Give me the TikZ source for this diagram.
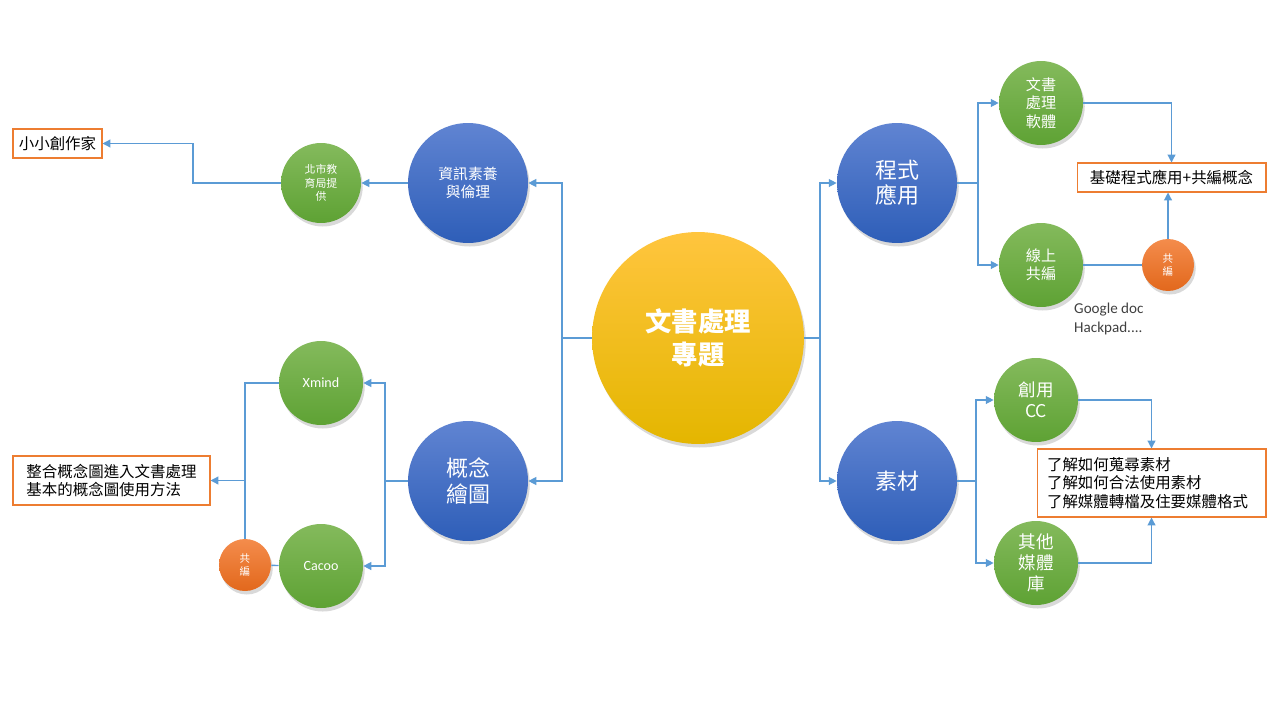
\documentclass[tikz,border=0pt]{standalone}
\usepackage{fontspec}
\setmainfont{Carlito}
\newfontfamily\cjk{Noto Sans CJK TC}
\usetikzlibrary{shadows,arrows.meta}

\definecolor{linkblue}{HTML}{5B9BD5}
\definecolor{boxorange}{HTML}{ED7D31}
\definecolor{gdtext}{HTML}{404040}

\begin{document}
\begin{tikzpicture}[x=0.02cm,y=-0.02cm,
    link/.style={draw=linkblue,line width=0.75pt},
    tip/.style={link,-{Triangle[length=4.5pt,width=4.5pt]}},
    ball/.style={circle,inner sep=0pt,align=center,text=white,
      drop shadow={opacity=0.3,shadow xshift=1pt,shadow yshift=-2pt}},
    hub/.style={ball,minimum size=4.24cm,
      top color={rgb,255:red,255;green,197;blue,62},
      middle color={rgb,255:red,255;green,192;blue,0},
      bottom color={rgb,255:red,228;green,182;blue,0},
      font=\cjk\bfseries\fontsize{15}{19}\selectfont},
    topic/.style={ball,minimum size=2.4cm,
      top color={rgb,255:red,96;green,132;blue,210},
      bottom color={rgb,255:red,46;green,94;blue,184}},
    leaf/.style={ball,minimum size=1.68cm,
      top color={rgb,255:red,132;green,186;blue,92},
      bottom color={rgb,255:red,94;green,162;blue,52}},
    cobox/.style={ball,minimum size=1.04cm,
      top color={rgb,255:red,244;green,140;blue,76},
      bottom color={rgb,255:red,226;green,104;blue,28},
      font=\cjk\fontsize{6}{7}\selectfont},
    note/.style={draw=boxorange,line width=0.6pt,inner sep=0pt,
      font=\cjk\fontsize{8.8}{10.5}\selectfont}]
  \useasboundingbox (0,0) rectangle (1280,720);

  % centre and the four topics
  \node[hub] (top) at (698,338) {文書處理\\專題};
  \node[topic,font=\cjk\fontsize{8.4}{10.5}\selectfont] (info) at (468,183) {資訊素養\\與倫理};
  \node[topic,font=\cjk\fontsize{12.5}{14.5}\selectfont] (map) at (468,481) {概念\\繪圖};
  \node[topic,font=\cjk\fontsize{12.5}{14.5}\selectfont] (prog) at (897,183) {程式\\應用};
  \node[topic,font=\cjk\fontsize{12.5}{14.5}\selectfont] (mat) at (897,481) {素材};

  % left branches
  \node[leaf,minimum size=1.6cm,font=\cjk\fontsize{6.2}{7.6}\selectfont] (bei) at (321,183) {北市教\\育局提\\供};
  \node[leaf,font=\fontsize{8}{10}\selectfont] (xmind) at (321,383) {Xmind};
  \node[leaf,font=\fontsize{8}{10}\selectfont] (cacoo) at (321,566) {Cacoo};
  \node[cobox] (coL) at (245,565) {共\\編};
  \node[note,minimum width=1.78cm,minimum height=0.58cm] (kid) at (57.5,143.5) {小小創作家};
  \node[note,minimum width=3.94cm,minimum height=0.98cm,align=left] (summ) at (111.5,480.5)
    {整合概念圖進入文書處理\\基本的概念圖使用方法};

  % right branches
  \node[leaf,font=\cjk\fontsize{8.6}{10.4}\selectfont] (soft) at (1041,103) {文書\\處理\\軟體};
  \node[leaf,font=\cjk\fontsize{8.6}{10.4}\selectfont] (online) at (1041,265) {線上\\共編};
  \node[cobox] (coR) at (1168,265) {共\\編};
  \node[leaf,font=\cjk\fontsize{10}{12}\selectfont] (cc) at (1036,400) {創用\\CC};
  \node[leaf,font=\cjk\fontsize{10}{12}\selectfont] (lib) at (1036,563) {其他\\媒體\\庫};
  \node[note,minimum width=3.78cm,minimum height=0.58cm] (goal) at (1171.5,177.5) {基礎程式應用+共編概念};
  \node[note,minimum width=4.58cm,minimum height=1.36cm,align=left,text width=4.18cm] (learn) at (1151.5,483)
    {了解如何蒐尋素材\\了解如何合法使用素材\\了解媒體轉檔及住要媒體格式};
  \node[anchor=west,align=left,text=gdtext,font=\fontsize{8.6}{11}\selectfont] (gdoc) at (1068,319)
    {Google doc\\Hackpad....};

  % connectors
  \coordinate (lj) at (562,338);
  \coordinate (rj) at (820,338);
  \draw[link] (top.west) -- (lj);
  \draw[tip] (lj) |- (info.east);
  \draw[tip] (lj) |- (map.east);
  \draw[link] (top.east) -- (rj);
  \draw[tip] (rj) |- (prog.west);
  \draw[tip] (rj) |- (mat.west);

  \coordinate (kj) at (193,183);
  \draw[tip] (info.west) -- (bei.east);
  \draw[tip] (bei.west) -- (kj) |- (kid.east);

  \coordinate (mj) at (385,481);
  \coordinate (xj) at (245,383);
  \draw[link] (map.west) -- (mj);
  \draw[tip] (mj) |- (xmind.east);
  \draw[tip] (mj) |- (cacoo.east);
  \draw[link] (xmind.west) -- (xj) -- (coL.north);
  \draw[tip] (xj |- summ.east) -- (summ.east);
  \draw[link] (coL) -- (cacoo);

  \coordinate (pj) at (978,183);
  \draw[link] (prog.east) -- (pj);
  \draw[tip] (pj) |- (soft.west);
  \draw[tip] (pj) |- (online.west);
  \draw[tip] (soft.east) -| (goal.north);
  \draw[link] (online) -- (coR);
  \draw[tip] (coR.north) -- (coR.north |- goal.south);

  \coordinate (sj) at (976,481);
  \draw[link] (mat.east) -- (sj);
  \draw[tip] (sj) |- (cc.west);
  \draw[tip] (sj) |- (lib.west);
  \draw[tip] (cc.east) -| (learn.north);
  \draw[tip] (lib.east) -| (learn.south);
\end{tikzpicture}
\end{document}
